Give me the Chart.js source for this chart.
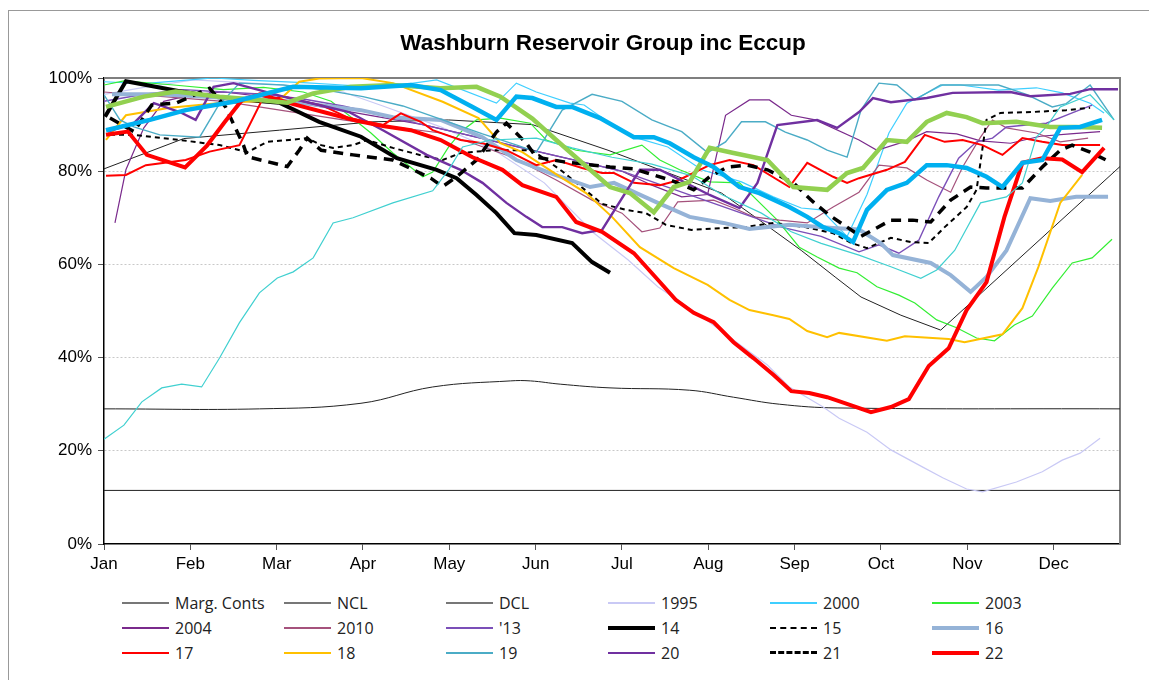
<!DOCTYPE html>
<html lang="en">
<head>
  <meta charset="UTF-8">
  <title>Washburn Reservoir Group inc Eccup</title>
  <script src="https://cdn.jsdelivr.net/npm/chart.js"></script>
  <style>
    body { margin: 0; background: #fff; }
    #frame { position: absolute; left: 8px; top: 10px; width: 1150px; height: 690px; border: 1px solid #999; box-sizing: border-box; }
    #chartCanvas { position: absolute; left: 0; top: 0; }
    #title { position: absolute; left: 303px; width: 600px; top: 30px; text-align: center;
             font-family: "Liberation Sans", Arial, sans-serif; font-weight: bold; font-size: 22.5px; color: #000; }
    #legend { position: absolute; left: 122px; top: 590px; display: grid; grid-template-columns: repeat(6, 162px); grid-auto-rows: 25px;
              font-family: "Open Sans", sans-serif; font-size: 16px; color: #222; }
    .item { display: flex; align-items: center; white-space: nowrap; }
    .swatch { width: 47px; height: 0; margin-right: 6px; }
  </style>
</head>
<body>
  <div id="frame"></div>
  <canvas id="chartCanvas" width="1149" height="580"></canvas>
  <div id="title">Washburn Reservoir Group inc Eccup</div>
  <div id="legend"></div>

  <script>
    // month labels, x axis is in weeks (0..51)
    const months = ['Jan','Feb','Mar','Apr','May','Jun','Jul','Aug','Sep','Oct','Nov','Dec'];

    // [week, % full]
    const margConts = [[0,80.5],[4,87],[8.8,88.8],[13.5,90.6],[17.3,91],[21.5,90],[25.3,84.5],[31,75.3],[32.9,69.5],[35,63],[36.7,57.3],[38,53],[40,49.1],[42,45.9],[51,81]];
    const ncl = [[0,29],[7.8,29],[12.9,30.2],[16.5,33.7],[20.4,35],[21.4,35],[22.9,34.3],[25.4,33.5],[29.4,33],[31.6,31.5],[33.9,30],[36.8,29.2],[51,29]];
    const dcl = [[0,11.5],[51,11.5]];
    const y1995 = [[0,96.5],[2,98],[4.5,99.6],[7,99],[9,98.5],[12,97],[14,94],[16.9,89.5],[19.6,84.5],[22.1,77.5],[24.6,66.7],[26.3,61],[27.8,55.2],[30.1,48.5],[31.6,43.8],[33.3,38.4],[34.4,33.7],[36.1,29.4],[36.9,27],[38.3,24],[39.5,20.2],[41.1,16.5],[42.1,14.2],[43.3,11.8],[44.1,11.2],[45.8,13.3],[47.1,15.5],[48.1,18],[49,19.5],[50,22.7]];
    const y2000 = [[0,99.2],[2,98.8],[4,99.5],[5.5,100],[7.5,99.5],[10,99],[12,98.5],[14,98],[16.7,99.6],[19.7,94.6],[20.7,98.9],[21.7,97],[23.4,94.6],[24.1,94.2],[25.4,90.3],[26.6,87.3],[28.3,85.2],[30,80.3],[32,77.7],[33.6,74.5],[35,72.1],[36,71.7],[37.3,66],[38.3,75],[39.4,88.2],[40.3,94.6],[42.1,98.5],[43,98.5],[44.9,97.4],[46.8,97.9],[48.1,96.8],[49.5,94.6],[50.2,92.5]];
    const y2003 = [[0,98.5],[1,99.4],[3.5,98.5],[6,97.5],[8,98],[10,97],[11.4,95],[12.9,89.9],[13.4,88.2],[14.5,83.9],[16,78.8],[16.5,79.8],[17.3,85.2],[18,88.8],[18.7,91],[19.9,91.4],[21.4,90.3],[22.2,86.7],[23.7,84.5],[25.4,83.5],[27,85.6],[27.9,82.4],[28.9,80.3],[30.4,77.7],[31.9,77.5],[33.8,69.5],[34.9,63.7],[35.8,61.6],[36.9,59.2],[37.8,58.2],[38.8,55.2],[39.9,53.4],[40.7,51.7],[41.8,48.1],[42.8,46.4],[43.8,44.2],[44.7,43.6],[45.7,47],[46.6,48.9],[47.6,54.9],[48.6,60.3],[49.6,61.4],[50.6,65.4]];
    const y2004 = [[0.55,68.9],[1.1,80.3],[2,89.3],[3,95],[4.5,96.5],[6,97],[8,96],[10,94.5],[12,93],[14,91.5],[16,90],[18,88],[20,86],[22,84],[24,82],[26,80],[27.5,77],[29,74.5],[30.3,75],[31.2,92],[32.4,95.3],[33.4,95.3],[34.5,92],[35.7,91],[37.9,86.7],[38.8,84.5],[40.3,86.5],[41.3,88.5],[42.8,88],[44,86.5],[45.5,86],[47,87.5],[48.5,88],[50,88.5]];
    const y2010 = [[0,97],[3,96],[6,95],[9,93],[12,91],[14.5,89.5],[16.9,88.2],[18.5,86],[20.5,83],[22.7,78.1],[24.5,73.8],[26,71],[27,67],[27.9,67.8],[28.8,73.4],[30.6,73.8],[31.6,72.1],[32.6,70.2],[33.9,69.5],[35.3,68.9],[36.6,72.3],[37.9,75.5],[38.9,81.3],[40.3,80.7],[41.3,78.1],[42.5,75.5],[43.1,80.9],[44,87.3],[44.6,91],[45.3,89.3],[46.8,88.2],[48,86.3],[49.4,87.1]];
    const y2013 = [[0,95],[2,96.5],[4,97.5],[6,97],[8,96.5],[10,95.5],[12,94],[14,92],[16,90],[18,88],[20,86],[22,84],[24,82],[26,80],[28,77],[30,74],[32,71],[34,68],[36,66],[37.9,62.7],[38.9,64.2],[39.9,62.4],[40.9,65.2],[41.9,74.5],[42.9,82.8],[43.8,86.3],[44.6,87.1],[45.3,89.5],[46.3,89.9],[47.3,90.3],[48.6,92.5],[49.6,94.2]];
    const y2014 = [[0.05,91.7],[1.1,99.3],[4,97],[6,95.7],[8.8,94.7],[10.8,90.6],[12.9,87.4],[14.7,82.8],[16.7,80.3],[17.7,78.5],[18.7,74.9],[19.7,71],[20.6,66.7],[21.7,66.3],[23.5,64.6],[24.5,60.5],[25.4,58.2]];
    const y2015 = [[0.3,87.8],[1.5,87.8],[3.8,86.7],[5.8,85.6],[7.2,84.1],[8.2,86.3],[9.3,86.7],[10.2,87.1],[10.9,85.6],[11.5,85],[12.5,85.6],[13.2,86.7],[14.5,85],[16.2,83.1],[17,82.4],[17.9,83.9],[19.5,84.5],[21.5,84.5],[23,80],[25,73],[26.2,71.7],[27.2,71],[28.2,68.5],[29.5,67.4],[31,67.8],[32.2,68],[33.6,68.9],[35.2,68],[36.6,66.7],[37.5,64.6],[38.3,63.5],[39.5,65.7],[40.5,64.8],[41.4,64.6],[42.2,68],[43.3,72.3],[43.8,76],[44.3,91],[45,92.5],[46.6,92.7],[48.3,93.1],[49.5,93.6]];
    const y2016 = [[0.4,96.5],[2.8,96.5],[6.2,95.7],[8.7,95.3],[12.9,93.1],[14.5,91.6],[16.9,91],[19,87.3],[20.7,82.4],[22.4,79.6],[24.4,76.6],[25.6,77.5],[27.8,73.2],[29.4,70.2],[31.1,68.9],[32.4,67.6],[34.4,68.5],[36.6,67.8],[37.9,67.5],[39,64.5],[39.6,62],[41.5,60.3],[42.5,57.7],[43.5,54.1],[44.3,57.3],[45.3,63],[46.5,74.2],[47.5,73.6],[48.8,74.5],[50.4,74.5]];
    const y2017 = [[0.1,79],[1.1,79.2],[2.1,81.3],[4.1,82.4],[5.3,84.2],[6.8,85.6],[7.9,95],[9,96],[11,94],[12.3,91.4],[14,89.9],[14.9,92.4],[15.9,90.6],[16.5,88.8],[17.9,86.7],[19,86],[20.2,84.5],[21.7,81.3],[22.7,82.4],[24,80.7],[25,79.6],[25.6,79.6],[26.6,77.5],[27.9,77],[28.8,78],[30.4,81.3],[31.4,82.4],[32.6,81.3],[34.4,76.6],[35.3,81.8],[36.6,78.8],[37.3,77.5],[37.9,78.5],[39.3,80.3],[40.2,82],[41.2,87.8],[42.2,86.3],[43.1,86.7],[44.1,85.6],[45.1,83.5],[46.1,87.1],[47.1,86.3],[48.1,85.6],[49.1,85.6],[50,85.6]];
    const y2018 = [[0.1,86.7],[1.1,92],[3.3,93.6],[5.7,94.6],[8.8,95.3],[9.8,99.2],[10.8,99.9],[12.9,100],[14.5,98.9],[17,94.9],[18.8,91.4],[19.9,86],[21,84.1],[22.9,78.8],[24.2,75.3],[25.5,70.2],[26.9,63.7],[28.6,59.2],[30.3,55.6],[31.4,52.4],[32.4,50.2],[33.6,49.1],[34.4,48.3],[35.3,45.7],[36.3,44.4],[36.9,45.3],[39.3,43.6],[40.2,44.6],[42.4,44],[43.2,43.3],[45.1,45],[46.1,50.6],[46.9,59.4],[48,73.2],[49.1,79.2]];
    const y2019 = [[0,96.4],[0.8,91],[1.5,89.5],[2.8,87.8],[4.8,87.3],[5.7,93.8],[6.8,98.9],[9,98.5],[11,97.5],[13,96],[15,94],[17,91],[19,88],[20.8,85.5],[21.7,84.1],[23,93.1],[24.5,96.5],[26,95],[27.5,91],[29,88.5],[30.3,84],[31.2,86.3],[32,90.6],[33.2,90.6],[34.2,88.4],[35.3,86.7],[36.3,84.5],[37.3,83],[38,93.1],[38.9,98.9],[39.8,98.5],[40.7,95.3],[42,98.5],[44.9,98.5],[46.3,96.5],[47.6,93.8],[48.3,94.5],[49.5,98.5],[50.7,91]];
    const y2020 = [[0.2,88.5],[1.5,90.3],[2.5,94.6],[3.8,92.7],[4.6,91],[5.5,98.1],[6.5,98.9],[7.2,98.1],[9,96],[11,94],[12.3,92.7],[14,88.8],[16.2,83.5],[17.9,80.3],[19,77.5],[20.2,73.2],[21.2,70.2],[22,68],[23,68],[24,66.7],[25,67.4],[26.9,80.3],[27.9,80.3],[30.4,74.9],[31.9,72.1],[32.8,77.5],[33.8,89.9],[35.8,91],[36.8,89.3],[37.9,92.7],[38.6,95.7],[39.5,94.8],[41.3,95.7],[42.6,96.8],[45.5,97],[46.5,96.1],[48.5,96.6],[49.5,97.6],[50.9,97.6]];
    const y2021 = [[0.3,91.4],[1.5,88.5],[2.4,94.2],[3.6,94.6],[5.3,97.8],[6.1,93.8],[7,85.6],[7.2,83.1],[9.2,81],[9.8,84.5],[10.2,87.1],[10.9,84.5],[12.5,83.5],[14.5,82.4],[16.4,78.5],[17,76.7],[17.7,78.8],[18.7,82.4],[19.7,88.4],[20.2,90.3],[21.2,86],[21.7,83],[23.1,82],[25.4,80.9],[26.6,80.5],[28.5,78],[29.6,76],[30.4,78.8],[31.3,80.9],[32.3,81.3],[33.3,80.3],[34.6,77.5],[35.6,73.4],[36.4,70.6],[37.3,68],[38,66],[39.5,69.5],[40.6,69.5],[41.5,69.1],[42.5,73.8],[43.5,76.6],[44.3,76.4],[45.3,76.4],[46.1,76.4],[47.1,80.9],[48,84.5],[48.6,85.6],[49.5,84.1],[50.3,82.4]];
    const y2022 = [[0.1,87.8],[1.2,88.5],[2.15,83.5],[4.07,80.8],[5.17,85.5],[6.07,90.6],[6.93,95.3],[7.83,96.5],[9.5,94.4],[11.2,92.5],[12.7,90.8],[14,89.7],[15.4,88.8],[16.9,86.7],[18.5,83],[20,80.3],[21,77],[22.7,74.5],[23.7,69.1],[25,67],[26.6,62.4],[27.8,56.7],[28.7,52.4],[29.6,49.6],[30.6,47.6],[31.6,43.3],[32.6,39.9],[33.6,36.3],[34.5,32.8],[35.4,32.4],[36.3,31.5],[37,30.5],[38.5,28.3],[39.5,29.4],[40.4,31.1],[41.4,38.2],[42.4,42],[43.3,50.2],[44.3,56.2],[45.2,70.2],[46.1,81.8],[47.1,82.8],[48.1,82.5],[49.1,79.8],[50.2,85]];
    // series drawn in the plot but cut from the legend
    const y1996 = [[0,22.5],[1,25.5],[1.9,30.5],[2.9,33.5],[3.9,34.3],[4.9,33.7],[5.8,39.9],[6.8,47.5],[7.8,53.9],[8.7,57.1],[9.5,58.4],[10.5,61.4],[11.5,68.9],[12.5,70],[14.5,73.2],[16.5,75.8],[17.3,80.3],[18,85.2],[19.4,86.7],[21.7,87.1],[23.5,85],[25.5,83],[27.5,81.5],[29.5,79],[31,75],[33,71],[34.5,67],[36,64.5],[37.9,62],[39.5,59.5],[41,57],[41.8,58.8],[42.7,63],[44,73.2],[45.3,74.5],[46.1,77.5],[46.8,87.3],[47.3,89.5],[48,93.8],[49.5,96.4],[50.7,91]];
    const y2023 = [[0.1,93.8],[2,96],[3.6,97.1],[5.8,96],[7.8,95.3],[9.2,94.7],[10.5,96.7],[12.4,98.1],[14.5,98.5],[16.9,97.8],[18.7,98.1],[19.9,96],[21.5,91.3],[22.7,86.7],[24,81.8],[25.4,76.6],[26.4,75.3],[27.6,71.2],[28.6,76.6],[29.4,77.7],[30.4,85],[31.6,83.9],[33.3,82.4],[34.6,76.6],[36.3,76],[37.3,79.6],[38.1,80.7],[39.3,86.7],[40.3,86.3],[41.3,90.6],[42.3,92.5],[43.3,91.6],[44.1,90.3],[45.8,90.6],[47.5,89.5],[48.8,89.5],[50.1,89.3]];
    const y2024 = [[0.1,88.8],[2.3,91],[4.1,93.1],[6.5,94.9],[9.5,98.1],[12.9,97.8],[15.4,98.5],[16.9,97.4],[18.5,93.8],[19.7,91],[20.7,96],[21.5,95.7],[22.7,93.8],[23.5,93.8],[24.9,91.4],[26.6,87.3],[27.6,87.3],[28.4,86],[29.6,83],[30.6,80.9],[31.9,76.6],[32.9,75.3],[34.4,72.3],[35.3,70.2],[36.1,68],[36.9,66.7],[37.6,64.8],[38.3,71.7],[39.3,76],[40.3,77.5],[41.3,81.3],[42.3,81.3],[43.3,80.7],[44.3,78.8],[45.1,76.6],[46.1,81.8],[47.1,82.4],[48,89.3],[49,89.5],[50.1,91]];

    // label, data, colour, width, dash, in legend, legend colour
    const seriesList = [
      ['Marg. Conts', margConts, '#222', 1, [], true, '#777'],
      ['NCL', ncl, '#222', 1, [], true, '#777'],
      ['DCL', dcl, '#222', 1, [], true, '#777'],
      ['1995', y1995, '#c9c9f5', 1.2, [], true],
      ['2000', y2000, '#3fcfff', 1.2, [], true],
      ['2003', y2003, '#33ee33', 1.2, [], true],
      ['2004', y2004, '#7a2a8c', 1.2, [], true],
      ['2010', y2010, '#a5527c', 1.2, [], true],
      ["'13", y2013, '#7b4fb8', 1.4, [], true],
      ['14', y2014, '#000', 4, [], true],
      ['15', y2015, '#000', 2, [5, 4], true],
      ['16', y2016, '#95b3d7', 4, [], true],
      ['17', y2017, '#ff0000', 2, [], true],
      ['18', y2018, '#ffc000', 2, [], true],
      ['19', y2019, '#4bacc6', 1.4, [], true],
      ['20', y2020, '#7030a0', 2.4, [], true],
      ['21', y2021, '#000', 3.5, [10, 7], true],
      ['22', y2022, '#ff0000', 4, [], true],
      ['1996', y1996, '#40d0d0', 1.2, [], false],
      ['23', y2023, '#92d050', 4.5, [], false],
      ['24', y2024, '#00b0f0', 4.5, [], false]
    ];

    const monthTicks = months.map((m, i) => i * 52 / 12);

    const datasets = seriesList.map((s, i) => ({
      label: s[0],
      data: s[1].map(p => ({ x: p[0], y: p[1] })),
      borderColor: s[2],
      borderWidth: s[3],
      borderDash: s[4],
      pointRadius: 0,
      fill: false,
      tension: s[0] === 'NCL' ? 0.4 : 0,
      order: seriesList.length - i
    }));

    // plot frame: grey top and right edges
    const frameLines = {
      id: 'frameLines',
      beforeDatasetsDraw(chart) {
        const { ctx, chartArea: a } = chart;
        ctx.save();
        ctx.strokeStyle = '#7f7f7f';
        ctx.lineWidth = 2;
        ctx.beginPath();
        ctx.moveTo(a.left, a.top);
        ctx.lineTo(a.right, a.top);
        ctx.lineTo(a.right, a.bottom);
        ctx.stroke();
        ctx.restore();
      }
    };

    new Chart(document.getElementById('chartCanvas'), {
      type: 'line',
      data: { datasets: datasets },
      plugins: [frameLines],
      options: {
        responsive: false,
        animation: false,
        layout: { padding: { top: 78, right: 29, left: 0, bottom: 0 } },
        plugins: {
          legend: { display: false },
          tooltip: { enabled: false },
          title: { display: false }
        },
        scales: {
          x: {
            type: 'linear',
            min: 0,
            max: 51,
            afterBuildTicks: axis => { axis.ticks = monthTicks.map(v => ({ value: v })); },
            afterFit: scale => { scale.height = 36; },
            ticks: {
              autoSkip: false,
              maxRotation: 0,
              padding: 4,
              color: '#000',
              font: { family: '"Liberation Sans", Arial, sans-serif', size: 17 },
              callback: (v, i) => months[i]
            },
            grid: { drawOnChartArea: false, drawTicks: true, tickLength: 6, tickColor: '#555' },
            border: { color: '#000', width: 1.5 }
          },
          y: {
            min: 0,
            max: 100,
            afterFit: scale => { scale.width = 104; },
            ticks: {
              stepSize: 20,
              padding: 6,
              color: '#000',
              font: { family: '"Liberation Sans", Arial, sans-serif', size: 17 },
              callback: v => v + '%'
            },
            grid: {
              color: ctx => (ctx.tick && (ctx.tick.value === 0 || ctx.tick.value === 100)) ? 'rgba(0,0,0,0)' : '#c8c8c8',
              tickColor: '#555',
              tickLength: 6,
              tickBorderDash: []
            },
            border: { color: '#000', width: 1.5, dash: [2, 2] }
          }
        }
      }
    });

    // legend in six columns
    const legendBox = document.getElementById('legend');
    datasets.forEach((d, i) => {
      const s = seriesList[i];
      if (!s[5]) return;
      const item = document.createElement('div');
      item.className = 'item';
      const sw = document.createElement('span');
      sw.className = 'swatch';
      const w = Math.max(2, Math.min(s[3], 4));
      sw.style.borderTop = w + 'px ' + (s[4].length ? 'dashed' : 'solid') + ' ' + (s[6] || s[2]);
      const txt = document.createElement('span');
      txt.textContent = s[0];
      item.appendChild(sw);
      item.appendChild(txt);
      legendBox.appendChild(item);
    });
  </script>
</body>
</html>
